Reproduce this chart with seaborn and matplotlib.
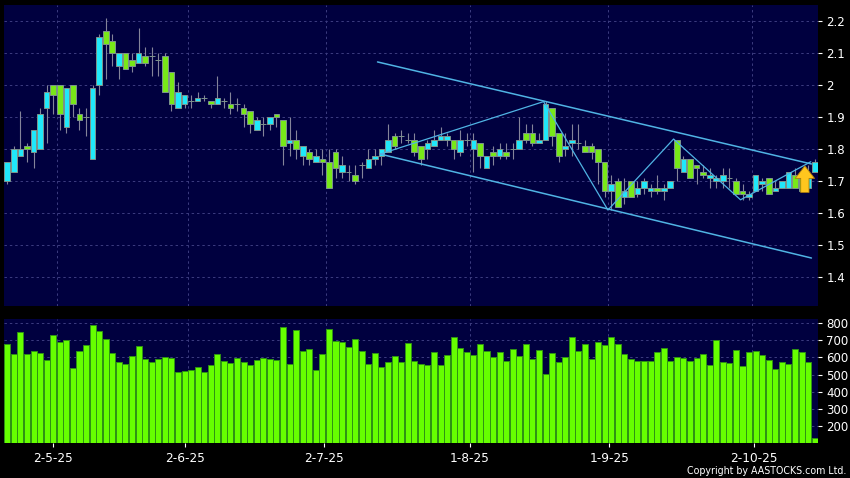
import matplotlib
matplotlib.use('Agg')
import matplotlib.pyplot as plt
import numpy as np
import pandas as pd
import seaborn as sns

# prices in cents (tick size is 0.01)
opens = [170, 173, 178, 181, 179, 180, 193, 200, 200, 187, 200, 191, 190, 177, 200, 217, 214, 206, 210, 208,
         207, 209, 209, 208, 209, 204, 193, 194, 195, 195, 196, 195, 194, 195, 194, 194, 193, 192, 186, 188,
         188, 191, 189, 182, 183, 178, 179, 176, 177, 176, 179, 173, 173, 172, 175, 174, 177, 178, 179, 184,
         184, 183, 183, 181, 180, 181, 183, 183, 183, 179, 183, 180, 182, 174, 179, 178, 179, 180, 180, 185,
         185, 182, 183, 193, 185, 180, 182, 182, 181, 181, 180, 176, 167, 170, 165, 170, 166, 168, 167, 168,
         167, 168, 183, 173, 177, 175, 173, 171, 170, 170, 171, 170, 167, 165, 167, 169, 171, 167, 168, 168,
         172, 171, 168, 173]
closes = [176, 180, 180, 180, 186, 191, 198, 197, 191, 199, 194, 189, 190, 199, 215, 213, 210, 210, 205, 206,
          210, 207, 209, 208, 198, 194, 198, 197, 195, 196, 196, 194, 196, 195, 193, 194, 191, 188, 189, 188,
          190, 190, 181, 183, 180, 181, 177, 178, 176, 168, 174, 175, 173, 170, 175, 177, 178, 180, 183, 181,
          184, 183, 179, 177, 182, 183, 184, 184, 180, 183, 183, 183, 178, 178, 178, 180, 178, 180, 183, 183,
          182, 183, 194, 184, 178, 181, 183, 182, 179, 179, 176, 167, 169, 162, 167, 165, 168, 170, 168, 167,
          168, 170, 174, 177, 171, 174, 172, 172, 171, 172, 171, 166, 166, 166, 172, 170, 166, 168, 170, 173,
          168, 167, 171, 176]
highs = [176, 181, 192, 182, 186, 193, 200, 200, 200, 199, 200, 193, 193, 200, 216, 221, 216, 210, 210, 210,
         218, 212, 212, 210, 210, 204, 201, 197, 197, 198, 197, 195, 203, 196, 198, 196, 194, 192, 190, 190,
         190, 191, 189, 190, 186, 181, 180, 180, 180, 180, 180, 178, 175, 175, 176, 180, 180, 180, 188, 185,
         186, 185, 185, 181, 183, 186, 187, 185, 183, 186, 185, 185, 182, 178, 181, 182, 182, 182, 190, 188,
         188, 185, 195, 193, 185, 185, 188, 188, 183, 182, 180, 176, 172, 171, 171, 170, 170, 171, 169, 172,
         169, 170, 183, 178, 177, 175, 175, 174, 172, 174, 174, 171, 169, 167, 172, 171, 171, 170, 170, 173,
         174, 172, 175, 177]
lows = [169, 173, 178, 176, 174, 180, 182, 191, 186, 185, 190, 186, 184, 177, 197, 202, 206, 202, 205, 204,
        207, 206, 203, 203, 198, 192, 193, 193, 193, 195, 195, 193, 194, 193, 191, 192, 187, 185, 186, 184,
        186, 187, 175, 178, 177, 175, 175, 176, 172, 168, 171, 171, 170, 169, 171, 174, 175, 175, 179, 180,
        182, 182, 178, 175, 177, 181, 183, 181, 177, 178, 181, 173, 174, 174, 175, 177, 177, 177, 180, 182,
        181, 182, 183, 181, 176, 178, 178, 180, 179, 177, 169, 165, 161, 162, 163, 165, 165, 166, 165, 166,
        164, 168, 170, 173, 171, 169, 171, 168, 168, 168, 168, 166, 164, 164, 167, 167, 166, 167, 168, 168,
        168, 167, 168, 173]

volume = [678, 618, 746, 620, 635, 628, 585, 732, 688, 699, 540, 637, 672, 788, 755, 707, 624, 575, 560, 608,
          666, 591, 575, 591, 602, 597, 515, 519, 527, 544, 515, 554, 620, 581, 569, 597, 573, 556, 587, 598,
          591, 587, 779, 560, 757, 637, 647, 525, 618, 767, 697, 688, 659, 709, 635, 562, 626, 544, 573, 606,
          573, 686, 581, 564, 558, 631, 556, 616, 719, 655, 629, 614, 678, 639, 602, 629, 581, 647, 606, 678,
          591, 641, 505, 624, 575, 604, 719, 635, 676, 589, 688, 674, 721, 676, 622, 593, 577, 579, 579, 631,
          655, 577, 602, 595, 579, 598, 620, 558, 699, 573, 566, 643, 550, 633, 639, 616, 583, 531, 571, 560,
          647, 631, 571, 131]

price_ticks = [1.4, 1.5, 1.6, 1.7, 1.8, 1.9, 2.0, 2.1, 2.2]
price_tick_labels = ['1.4', '1.5', '1.6', '1.7', '1.8', '1.9', '2', '2.1', '2.2']
volume_ticks = [200, 300, 400, 500, 600, 700, 800]
date_grid = [7.5, 27.5, 48.5, 70.5, 91.5, 113.5]
date_ticks = [7.0, 27.1, 48.3, 70.5, 91.7, 113.8]
date_labels = ['2-5-25', '2-6-25', '2-7-25', '1-8-25', '1-9-25', '2-10-25']

# trend channel and zigzag drawn on the chart
upper_x = [56.4, 122.5]
upper_y = [2.073, 1.754]
lower_x = [56.8, 122.5]
lower_y = [1.785, 1.460]
zigzag_x = [56.8, 81.7, 91.5, 101.5, 111.7, 122.4]
zigzag_y = [1.785, 1.949, 1.610, 1.832, 1.642, 1.761]

df = pd.DataFrame({'day': np.arange(len(volume)), 'open': opens, 'close': closes,
                   'high': highs, 'low': lows, 'volume': volume})
df[['open', 'close', 'high', 'low']] /= 100

sns.set_theme(style='dark', rc={'figure.facecolor': 'black', 'axes.facecolor': '#00003f',
                                'savefig.facecolor': 'black', 'font.family': ['DejaVu Sans']})

W, H = 850, 478
GRID = '#3c3c80'
DASH = (0, (2.5, 3))
fig = plt.figure(figsize=(W / 100, H / 100), dpi=100)
ax1 = fig.add_axes([4 / W, 1 - 306 / H, 814 / W, 301 / H])
ax2 = fig.add_axes([4 / W, 1 - 443.3 / H, 814 / W, 124.3 / H])

# candles
up = df['close'] >= df['open']
body_low = df[['open', 'close']].min(axis=1)
body_h = (df['close'] - df['open']).abs()
ax1.vlines(df['day'], df['low'], df['high'], color='#84849a', lw=0.8, zorder=2)
ax1.bar(df['day'], body_h, bottom=body_low, width=0.86,
        color=np.where(up, '#20e8fa', '#78e818'), edgecolor='#7d948c', lw=0.7, zorder=3)

sns.lineplot(x=upper_x, y=upper_y, ax=ax1, color='#50b4e4', lw=1.1, zorder=4)
sns.lineplot(x=lower_x, y=lower_y, ax=ax1, color='#50b4e4', lw=1.1, zorder=4)
sns.lineplot(x=zigzag_x, y=zigzag_y, ax=ax1, color='#50b4e4', lw=0.9, sort=False, zorder=4)

ax1.annotate('', xy=(121.5, 1.748), xytext=(121.5, 1.665), zorder=6,
             arrowprops=dict(width=6, headwidth=14, headlength=9, fc='#ffc61e', ec='#a87a10', lw=0.6))

ax1.set_xlim(-0.5, 123.5)
ax1.set_ylim(1.310, 2.251)
ax1.set_yticks(price_ticks)
ax1.set_yticklabels(price_tick_labels)
ax1.set_xticks(date_grid)
ax1.tick_params(axis='x', length=0, labelbottom=False)

# volume
sns.barplot(data=df, x='day', y='volume', ax=ax2, native_scale=True, color='#66ff00',
            saturation=1, width=0.92, edgecolor='#2f9414', linewidth=0.7, zorder=3)
ax2.set_xlim(-0.5, 123.5)
ax2.set_ylim(100, 823)
ax2.set_yticks(volume_ticks)
ax2.set_xticks(date_ticks)
ax2.set_xticklabels(date_labels)
for x in date_grid:
    ax2.axvline(x, color=GRID, lw=0.7, ls=DASH, zorder=1)
for y in volume_ticks:
    ax2.axhline(y, color=GRID, lw=0.7, ls=DASH, zorder=1)
ax2.set_xlabel('')
ax2.set_ylabel('')

ax1.set_axisbelow(True)
ax1.grid(True, color=GRID, lw=0.7, ls=DASH)
ax2.grid(False)

for ax in (ax1, ax2):
    for s in ax.spines.values():
        s.set_visible(False)
    ax.yaxis.tick_right()
    ax.tick_params(axis='y', length=3, width=0.8, pad=3, colors='white', labelsize=8.5, right=True)
ax2.tick_params(axis='x', length=3, width=0.8, pad=3, colors='white', labelsize=8.7, bottom=True)

fig.text(846 / W, 1 - 471 / H, 'Copyright by AASTOCKS.com Ltd.', color='white', fontsize=6.85,
         ha='right', va='center')

fig.savefig('out.png', dpi=100)
